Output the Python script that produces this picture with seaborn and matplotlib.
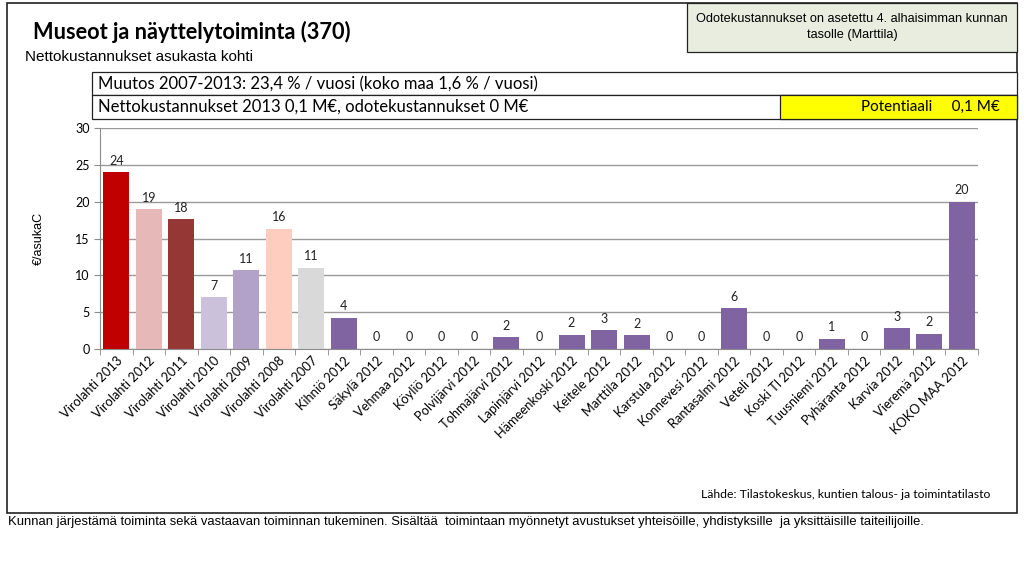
import numpy as np
import pandas as pd
import matplotlib.pyplot as plt
from matplotlib.patches import Rectangle
import seaborn as sns

# chart data
kunnat = ["Virolahti 2013", "Virolahti 2012", "Virolahti 2011", "Virolahti 2010",
          "Virolahti 2009", "Virolahti 2008", "Virolahti 2007", "Kihniö 2012",
          "Säkylä 2012", "Vehmaa 2012", "Köyliö 2012", "Polvijärvi 2012",
          "Tohmajärvi 2012", "Lapinjärvi 2012", "Hämeenkoski 2012", "Keitele 2012",
          "Marttila 2012", "Karstula 2012", "Konnevesi 2012", "Rantasalmi 2012",
          "Veteli 2012", "Koski Tl 2012", "Tuusniemi 2012", "Pyhäranta 2012",
          "Karvia 2012", "Vieremä 2012", "KOKO MAA 2012"]
euroa_asukas = [24.0, 18.95, 17.6, 7.05, 10.7, 16.3, 11.0, 4.25,
                0, 0, 0, 0,
                1.6, 0, 1.9, 2.55,
                1.85, 0, 0, 5.55,
                0, 0, 1.4, 0,
                2.8, 2.1, 20.0]
varit = ["#C00000", "#E6B9B8", "#953735", "#CCC1DA", "#B3A2C7", "#FFCCC0", "#D9D9D9"] \
    + ["#8064A2"] * 20

df = pd.DataFrame({"kunta": kunnat, "arvo": euroa_asukas})

W, H = 1024, 563
fig = plt.figure(figsize=(W / 100, H / 100), dpi=100)


def px(x, y):
    return x / W, 1 - y / H


def box(x0, y0, x1, y1, fc="white", lw=0.9):
    fig.patches.append(Rectangle(px(x0, y1), (x1 - x0) / W, (y1 - y0) / H,
                                 transform=fig.transFigure, fc=fc, ec="#222222",
                                 lw=lw, zorder=-1))


calibri = ["Lato", "DejaVu Sans"]
arial = ["Liberation Sans", "DejaVu Sans"]

# outer frame and info boxes
box(7, 3, 1017, 513, fc="none", lw=1.2)
box(687, 3, 1017, 52, fc="#E9EDE0")
box(92, 72, 1017, 95)
box(92, 95, 1017, 119)
box(780, 95, 1017, 119, fc="#FFFF00")

ax = fig.add_axes([100 / W, 1 - 349 / H, (978 - 100) / W, (349 - 128) / H])
ax.set_zorder(2)
sns.barplot(data=df, x="kunta", y="arvo", hue="kunta", palette=varit,
            legend=False, width=0.8, saturation=1, ax=ax)

for c in ax.containers:
    ax.bar_label(c, labels=[f"{v:.0f}" for v in c.datavalues], padding=4,
                 fontsize=9, family=calibri, color="#222222")

ax.set_ylim(0, 30)
ax.set_xlim(-0.5, len(kunnat) - 0.5)
ax.set_yticks(range(0, 31, 5))
ax.yaxis.grid(True, color="#9A9A9A", lw=1)
ax.set_axisbelow(True)
ax.set_facecolor("none")
for s in ["top", "right"]:
    ax.spines[s].set_visible(False)
for s in ["left", "bottom"]:
    ax.spines[s].set_color("#8C8C8C")
ax.set_xticks(np.arange(-0.5, len(kunnat)), minor=True)
ax.tick_params(axis="x", which="minor", length=4, color="#8C8C8C")
ax.tick_params(axis="x", which="major", length=0, pad=4)
ax.tick_params(axis="y", length=4, color="#8C8C8C", labelsize=9)
ax.set_xticks(range(len(kunnat)))
ax.set_xticklabels(kunnat, rotation=45, ha="right", rotation_mode="anchor",
                   fontsize=9.3, family=calibri)
for t in ax.get_yticklabels():
    t.set_family(calibri)
ax.set_xlabel("")
ax.set_ylabel("€/asukaC", fontsize=9, family=arial, labelpad=22)

# texts
fig.text(*px(33, 32), "Museot ja näyttelytoiminta (370)", fontsize=15.7,
         fontweight="bold", family=calibri, va="center")
fig.text(*px(25, 57), "Nettokustannukset asukasta kohti", fontsize=11,
         family=arial, va="center")
fig.text(*px(852, 27), "Odotekustannukset on asetettu 4. alhaisimman kunnan\ntasolle (Marttila)",
         fontsize=9.2, family=arial, ha="center", va="center", linespacing=1.4)
fig.text(*px(98, 84), "Muutos 2007-2013: 23,4 % / vuosi (koko maa 1,6 % / vuosi)",
         fontsize=12, family=calibri, va="center")
fig.text(*px(98, 107), "Nettokustannukset 2013 0,1 M€, odotekustannukset 0 M€",
         fontsize=12, family=calibri, va="center")
fig.text(*px(1000, 107), "Potentiaali     0,1 M€", fontsize=11,
         family=calibri, ha="right", va="center")
fig.text(*px(990, 495), "Lähde: Tilastokeskus, kuntien talous- ja toimintatilasto",
         fontsize=8.8, family=calibri, ha="right", va="center")
fig.text(*px(8, 522),
         "Kunnan järjestämä toiminta sekä vastaavan toiminnan tukeminen. Sisältää  toimintaan myönnetyt avustukset yhteisöille, yhdistyksille  ja yksittäisille taiteilijoille.",
         fontsize=9.4, family=arial, va="center")

fig.savefig("out.png", dpi=100)
